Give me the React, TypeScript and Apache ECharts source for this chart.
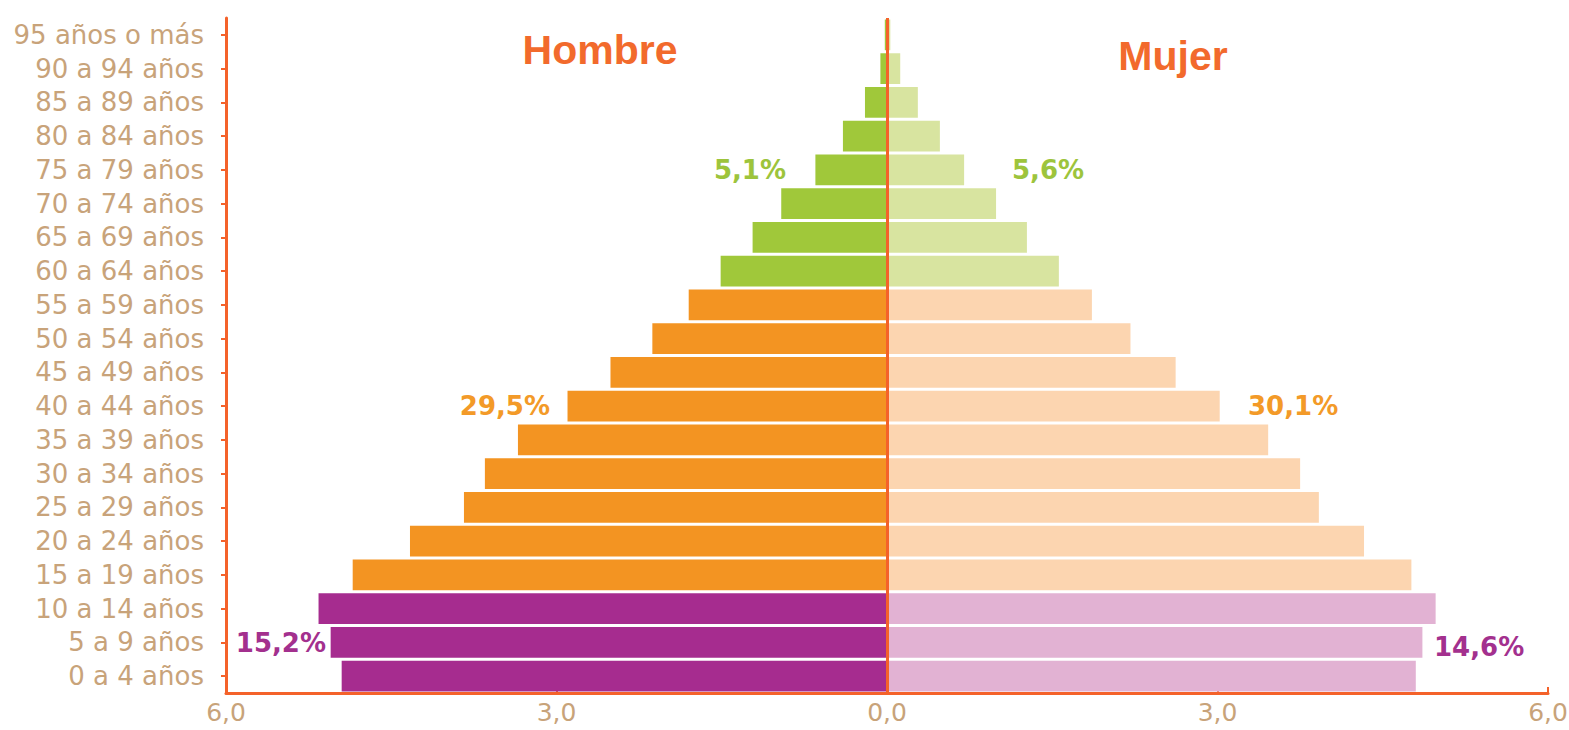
import React, { useEffect, useRef } from "react";
import * as echarts from "echarts";

const categories = [
  "0 a 4 años", "5 a 9 años", "10 a 14 años", "15 a 19 años", "20 a 24 años",
  "25 a 29 años", "30 a 34 años", "35 a 39 años", "40 a 44 años", "45 a 49 años",
  "50 a 54 años", "55 a 59 años", "60 a 64 años", "65 a 69 años", "70 a 74 años",
  "75 a 79 años", "80 a 84 años", "85 a 89 años", "90 a 94 años", "95 años o más",
];
const hombre = [4.95, 5.05, 5.16, 4.85, 4.33, 3.84, 3.65, 3.35, 2.9, 2.51, 2.13, 1.8, 1.51, 1.22, 0.96, 0.65, 0.4, 0.2, 0.06, 0.02];
const mujer = [4.8, 4.86, 4.98, 4.76, 4.33, 3.92, 3.75, 3.46, 3.02, 2.62, 2.21, 1.86, 1.56, 1.27, 0.99, 0.7, 0.48, 0.28, 0.12, 0.03];
const xTicks = [-6, -3, 0, 3, 6];

const groupOf = (i: number) => (i < 3 ? 0 : i < 12 ? 1 : 2);
const hombreColors = ["#A62C8F", "#F39422", "#A0C83A"];
const mujerColors = ["#E2B2D3", "#FCD5B0", "#D8E4A0"];
const labelColors = ["#A3308E", "#F39A28", "#9DC43C"];

const AXIS = "#F4622A";
const TAN = "#C8A37A";
const FONT = "DejaVu Sans";

export default function App() {
  const ref = useRef<HTMLDivElement>(null);
  useEffect(() => {
    if (!ref.current) return;
    const chart = echarts.init(ref.current, undefined, { renderer: "svg" });
    const pct = (text: string, x: number, y: number, align: string, color: string) => ({
      type: "text",
      x,
      y,
      style: {
        text,
        fill: color,
        font: `bold 26px "${FONT}"`,
        textAlign: align,
        textVerticalAlign: "middle",
      },
    });
    chart.setOption({
      animation: false,
      grid: { left: 226, right: 21, top: 18, bottom: 37, containLabel: false, outerBoundsMode: "none" },
      xAxis: {
        type: "value",
        min: -6,
        max: 6,
        interval: 3,
        splitLine: { show: false },
        axisLine: { show: true, onZero: false, lineStyle: { color: AXIS, width: 3 } },
        axisTick: { show: true, inside: true, length: 6, lineStyle: { color: AXIS, width: 2 } },
        axisLabel: {
          color: TAN,
          fontSize: 25,
          fontFamily: FONT,
          margin: 7,
          customValues: xTicks,
          formatter: (v: number) => Math.abs(v).toFixed(1).replace(".", ","),
        },
      },
      yAxis: {
        type: "category",
        data: categories,
        axisLine: { show: true, onZero: false, lineStyle: { color: AXIS, width: 3 } },
        axisTick: { show: true, alignWithLabel: true, length: 5, lineStyle: { color: AXIS, width: 2 } },
        axisLabel: { color: TAN, fontSize: 26, fontFamily: FONT, margin: 22, interval: 0 },
      },
      series: [
        {
          name: "Hombre",
          type: "bar",
          stack: "total",
          barCategoryGap: "9%",
          data: hombre.map((v) => -v),
          itemStyle: { color: (p: any) => hombreColors[groupOf(p.dataIndex)] },
          silent: true,
        },
        {
          name: "Mujer",
          type: "bar",
          stack: "total",
          barCategoryGap: "9%",
          data: mujer,
          itemStyle: { color: (p: any) => mujerColors[groupOf(p.dataIndex)] },
          silent: true,
          markLine: {
            silent: true,
            symbol: "none",
            label: { show: false },
            lineStyle: { color: AXIS, width: 3, type: "solid" },
            data: [{ xAxis: 0 }],
          },
        },
      ],
      graphic: [
        {
          type: "text",
          x: 600,
          y: 50,
          style: {
            text: "Hombre",
            fill: "#F26A2C",
            font: 'bold 41px "Liberation Sans"',
            textAlign: "center",
            textVerticalAlign: "middle",
          },
        },
        {
          type: "text",
          x: 1173,
          y: 56,
          style: {
            text: "Mujer",
            fill: "#F26A2C",
            font: 'bold 41px "Liberation Sans"',
            textAlign: "center",
            textVerticalAlign: "middle",
          },
        },
        pct("5,1%", 786, 170, "right", labelColors[2]),
        pct("5,6%", 1012, 170, "left", labelColors[2]),
        pct("29,5%", 550, 406, "right", labelColors[1]),
        pct("30,1%", 1248, 406, "left", labelColors[1]),
        pct("15,2%", 326, 643, "right", labelColors[0]),
        pct("14,6%", 1434, 647, "left", labelColors[0]),
      ],
    });
    return () => chart.dispose();
  }, []);
  return (
    <div
      ref={ref}
      style={{ position: "absolute", left: 0, top: 0, width: 1569, height: 730 }}
    />
  );
}
